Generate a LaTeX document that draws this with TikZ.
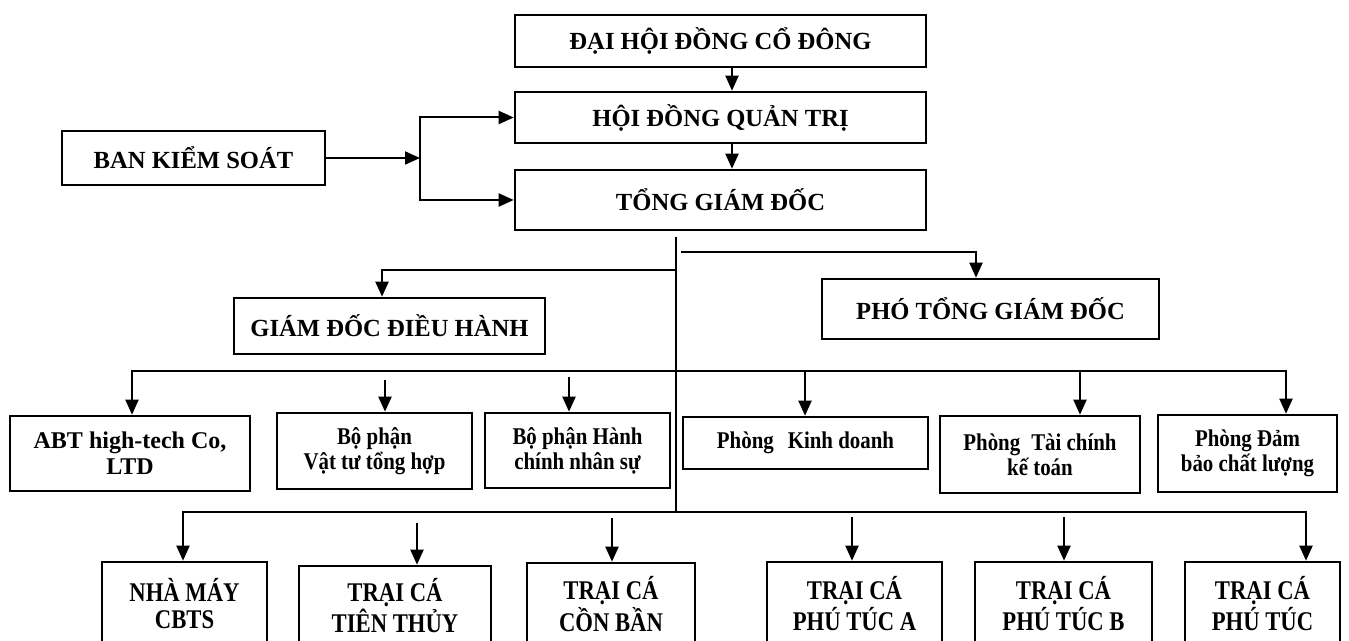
\documentclass[tikz,border=0pt]{standalone}
\usepackage{fontspec}
\setmainfont{Liberation Serif}
\newfontfamily\narrowfont{Liberation Serif}[FakeStretch=0.87]
\newfontfamily\bottomfont{Liberation Serif}[FakeStretch=0.84]
\usetikzlibrary{arrows.meta}
\begin{document}
\begin{tikzpicture}[x=0.5pt,y=-0.5pt,
  box/.style={draw=black, line width=1.3pt, rectangle, inner sep=0pt, align=center, text=black},
  titlebox/.style={box, font=\bfseries\fontsize{12.3}{14}\selectfont},
  smallbox/.style={box, font=\narrowfont\bfseries\fontsize{12}{12.5}\selectfont},
  farmbox/.style={box, font=\bottomfont\bfseries\fontsize{13.5}{13.5}\selectfont},
  ln/.style={draw=black, line width=1pt, line join=miter},
  arr/.style={ln, -{Triangle[length=7.5pt,width=6.5pt]}},
  darr/.style={ln, {Triangle[length=7.5pt,width=6.5pt]}-{Triangle[length=7.5pt,width=6.5pt]}}
]
\useasboundingbox (0,0) rectangle (1349,641);
\clip (0,0) rectangle (1349,641);
\fill[white] (0,0) rectangle (1349,641);

% top column
\node[titlebox, minimum width=205.5pt, minimum height=26pt] (dhdcd) at (720.5,41) {ĐẠI HỘI ĐỒNG CỔ ĐÔNG};
\node[titlebox, minimum width=205.5pt, minimum height=25.5pt] (hdqt) at (720.5,117.5) {HỘI ĐỒNG QUẢN TRỊ};
\node[titlebox, minimum width=205.5pt, minimum height=30pt] (tgd) at (720.5,200) {TỔNG GIÁM ĐỐC};
\node[titlebox, minimum width=131.5pt, minimum height=27pt] (bks) at (193.5,158) {BAN KIỂM SOÁT};

% second level
\node[titlebox, minimum width=155.5pt, minimum height=28pt] (gddh) at (389.5,326) {GIÁM ĐỐC ĐIỀU HÀNH};
\node[titlebox, minimum width=168.5pt, minimum height=30pt] (ptgd) at (990.5,309) {PHÓ TỔNG GIÁM ĐỐC};

% departments
\node[box, font=\bfseries\fontsize{12}{13}\selectfont, minimum width=120pt, minimum height=37.5pt] (abt) at (130,453.5) {ABT high-tech Co,\\LTD};
\node[smallbox, minimum width=97.5pt, minimum height=38pt] (vttt) at (374.5,451) {Bộ phận\\Vật tư tổng hợp};
\node[smallbox, minimum width=92.5pt, minimum height=37.5pt] (hcns) at (577.5,450.5) {Bộ phận Hành\\chính nhân sự};
\node[smallbox, minimum width=122.5pt, minimum height=26pt] (kd) at (805.5,443) {Phòng\hspace{7pt}Kinh doanh};
\node[smallbox, minimum width=100pt, minimum height=38.5pt] (tckt) at (1040,454.5) {Phòng\hspace{5.5pt}Tài chính\\kế toán};
\node[smallbox, minimum width=89.5pt, minimum height=38.5pt] (dbcl) at (1247.5,453.5) {Phòng Đảm\\bảo chất lượng};

% farms
\node[farmbox, minimum width=82.5pt, minimum height=41.5pt] (nm) at (184.5,603.5) {NHÀ MÁY\\CBTS};
\node[farmbox, minimum width=96pt, minimum height=39.5pt] (tt) at (395,605.5) {TRẠI CÁ\\TIÊN THỦY};
\node[farmbox, minimum width=84pt, minimum height=41pt] (cb) at (611,604) {TRẠI CÁ\\CỒN BẦN};
\node[farmbox, minimum width=87.5pt, minimum height=41.5pt] (pta) at (854.5,603.5) {TRẠI CÁ\\PHÚ TÚC A};
\node[farmbox, minimum width=88.5pt, minimum height=41.5pt] (ptb) at (1063.5,603.5) {TRẠI CÁ\\PHÚ TÚC B};
\node[farmbox, minimum width=77.5pt, minimum height=41.5pt] (pt) at (1262.5,603.5) {TRẠI CÁ\\PHÚ TÚC};

% top connectors
\coordinate (a1) at (732,0);
\draw[arr] (dhdcd.south -| a1) -- (hdqt.north -| a1);
\draw[arr] (hdqt.south -| a1) -- (tgd.north -| a1);
\coordinate (j1) at (420,158);
\draw[arr] (bks.east) -- (j1);
\draw[arr] (j1) |- (hdqt.west);
\draw[arr] (j1) |- (tgd.west);

% trunk
\coordinate (t0) at (676,237);
\coordinate (t1) at (676,512);
\draw[ln] (t0) -- (t1);
\coordinate (p0) at (681,252);
\coordinate (p1) at (976,252);
\draw[arr] (p0) -- (p1) -- (p1 |- ptgd.north);
\coordinate (g0) at (676,270);
\coordinate (g1) at (382,270);
\draw[arr] (g0) -- (g1) -- (g1 |- gddh.north);

% middle bus
\coordinate (m0) at (132,371);
\coordinate (m1) at (1286,371);
\draw[darr] (m0 |- abt.north) -- (m0) -- (m1) -- (m1 |- dbcl.north);
\coordinate (v1) at (385,380);
\draw[arr] (v1) -- (v1 |- vttt.north);
\coordinate (v2) at (569,377);
\draw[arr] (v2) -- (v2 |- hcns.north);
\coordinate (v3) at (805,371);
\draw[arr] (v3) -- (v3 |- kd.north);
\coordinate (v4) at (1080,371);
\draw[arr] (v4) -- (v4 |- tckt.north);

% bottom bus
\coordinate (n0) at (183,512);
\coordinate (n1) at (1306,512);
\draw[darr] (n0 |- nm.north) -- (n0) -- (n1) -- (n1 |- pt.north);
\coordinate (w1) at (417,523);
\draw[arr] (w1) -- (w1 |- tt.north);
\coordinate (w2) at (612,518);
\draw[arr] (w2) -- (w2 |- cb.north);
\coordinate (w3) at (852,517);
\draw[arr] (w3) -- (w3 |- pta.north);
\coordinate (w4) at (1064,517);
\draw[arr] (w4) -- (w4 |- ptb.north);
\end{tikzpicture}
\end{document}
